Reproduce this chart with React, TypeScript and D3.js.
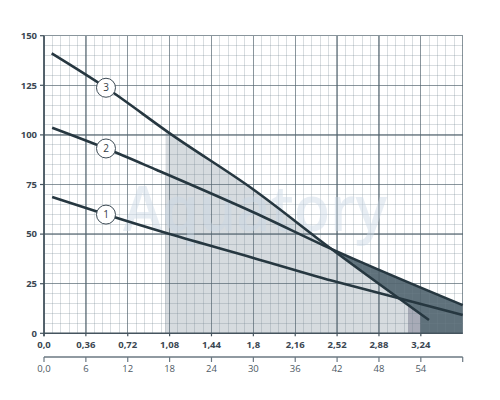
import React from "react";
import * as d3 from "d3";

// ---- data ----
const xTickValues = [0, 0.36, 0.72, 1.08, 1.44, 1.8, 2.16, 2.52, 2.88, 3.24];
const xTickLabels = ["0,0", "0,36", "0,72", "1,08", "1,44", "1,8", "2,16", "2,52", "2,88", "3,24"];
const x2TickLabels = ["0,0", "6", "12", "18", "24", "30", "36", "42", "48", "54"];
const yTickValues = [0, 25, 50, 75, 100, 125, 150];

const curve1X = [0.07, 0.54, 1.08, 1.8, 2.52, 2.88, 3.24, 3.6];
const curve1Y = [68.7, 59.7, 50, 38, 25.8, 20.3, 14.8, 9.2];
const curve2X = [0.07, 0.54, 0.97, 1.8, 2.46, 3.6];
const curve2Y = [103.6, 93, 82.3, 61, 42.8, 14.2];
const curve3X = [0.066, 0.54, 1.1, 1.8, 2.46, 3.31];
const curve3Y = [141.1, 123.5, 100, 72.5, 43, 6.7];
const curveNames = ["1", "2", "3"];
const labelX = 0.533;

// shaded working ranges (x values)
const lightRange = [1.045, 3.13];
const mediumRange = [3.13, 3.24];
const darkRange = [1.045, 3.6];

const X_MAX = 3.6;
const Y_MAX = 150;

export default function App() {
  const x = d3.scaleLinear().domain([0, X_MAX]).range([44, 462.7]);
  const y = d3.scaleLinear().domain([0, Y_MAX]).range([333.3, 35.7]);

  const series = [
    curve1X.map((v, i) => [v, curve1Y[i]] as [number, number]),
    curve2X.map((v, i) => [v, curve2Y[i]] as [number, number]),
    curve3X.map((v, i) => [v, curve3Y[i]] as [number, number]),
  ];

  const line = d3
    .line<[number, number]>()
    .x((d) => x(d[0]))
    .y((d) => y(d[1]))
    .curve(d3.curveMonotoneX);
  const area = d3
    .area<[number, number]>()
    .x((d) => x(d[0]))
    .y0(y(0))
    .y1((d) => y(d[1]))
    .curve(d3.curveMonotoneX);

  const interp = (xs: number[], ys: number[], v: number) => {
    for (let i = 0; i < xs.length - 1; i++) {
      if (v >= xs[i] && v <= xs[i + 1]) {
        const t = (v - xs[i]) / (xs[i + 1] - xs[i]);
        return ys[i] + t * (ys[i + 1] - ys[i]);
      }
    }
    return ys[0];
  };

  const minorX = d3.range(0, X_MAX + 1e-9, 0.072);
  const majorX = d3.range(0, X_MAX + 1e-9, 0.36);
  const minorY = d3.range(0, Y_MAX + 1e-9, 5);
  const majorY = d3.range(0, Y_MAX + 1e-9, 25);

  const rect = (r: number[]) => ({
    x: x(r[0]),
    width: x(r[1]) - x(r[0]),
    y: y(Y_MAX),
    height: y(0) - y(Y_MAX),
  });

  const font = "'Open Sans', 'Noto Sans', sans-serif";
  const lineColor = "#263740";

  return (
    <svg
      width={500}
      height={400}
      style={{ position: "absolute", left: 0, top: 0, background: "#fff" }}
    >
      <defs>
        <clipPath id="under2">
          <path d={area(series[1]) || ""} />
        </clipPath>
        <clipPath id="under3">
          <path d={area(series[2]) || ""} />
        </clipPath>
      </defs>

      {/* shaded zones */}
      <rect {...rect(darkRange)} fill="#5f717b" clipPath="url(#under2)" />
      <rect {...rect(lightRange)} fill="#d6dbdf" clipPath="url(#under3)" />
      <rect {...rect(mediumRange)} fill="#a8abb7" clipPath="url(#under3)" />

      {/* grid */}
      <g shapeRendering="crispEdges">
        {minorX.map((v, i) => (
          <line key={"mx" + i} x1={x(v)} x2={x(v)} y1={y(0)} y2={y(Y_MAX)} stroke="#6f808c" strokeOpacity={0.27} strokeWidth={1} />
        ))}
        {minorY.map((v, i) => (
          <line key={"my" + i} x1={x(0)} x2={x(X_MAX)} y1={y(v)} y2={y(v)} stroke="#6f808c" strokeOpacity={0.27} strokeWidth={1} />
        ))}
        {majorX.map((v, i) => (
          <line key={"Mx" + i} x1={x(v)} x2={x(v)} y1={y(0)} y2={y(Y_MAX)} stroke="#4f606b" strokeOpacity={0.58} strokeWidth={1.3} />
        ))}
        {majorY.map((v, i) => (
          <line key={"My" + i} x1={x(0)} x2={x(X_MAX)} y1={y(v)} y2={y(v)} stroke="#4f606b" strokeOpacity={0.58} strokeWidth={1.3} />
        ))}
      </g>

      {/* watermark */}
      <text
        x={255}
        y={231}
        textAnchor="middle"
        fontFamily={font}
        fontWeight={600}
        fontSize={64}
        fill="#c9d6e4"
        fillOpacity={0.45}
        textLength={264}
        lengthAdjust="spacingAndGlyphs"
      >
        Aquatory
      </text>

      {/* axes */}
      <line x1={x(0)} x2={x(X_MAX)} y1={y(0)} y2={y(0)} stroke="#45545e" strokeWidth={1.6} />
      <line x1={x(0)} x2={x(0)} y1={y(0) + 3} y2={y(Y_MAX)} stroke="#45545e" strokeWidth={1.6} />
      {yTickValues.map((v, i) => (
        <g key={"yt" + i}>
          <line x1={x(0) - 4} x2={x(0)} y1={y(v)} y2={y(v)} stroke="#45545e" strokeWidth={1.2} />
          <text x={37} y={y(v)} dy="0.35em" textAnchor="end" fontFamily={font} fontWeight={700} fontSize={9.5} fill="#3b4752">
            {v}
          </text>
        </g>
      ))}
      {xTickValues.map((v, i) => (
        <g key={"xt" + i}>
          <line x1={x(v)} x2={x(v)} y1={y(0)} y2={y(0) + 3} stroke="#45545e" strokeWidth={1.2} />
          <text x={x(v)} y={347.5} textAnchor="middle" fontFamily={font} fontWeight={700} fontSize={9.5} fill="#3b4752">
            {xTickLabels[i]}
          </text>
        </g>
      ))}

      {/* second x axis */}
      <line x1={x(0)} x2={x(X_MAX)} y1={357} y2={357} stroke="#6b7882" strokeWidth={1.6} />
      <line x1={x(X_MAX)} x2={x(X_MAX)} y1={357} y2={362} stroke="#6b7882" strokeWidth={1.2} />
      {xTickValues.map((v, i) => (
        <g key={"x2t" + i}>
          <line x1={x(v)} x2={x(v)} y1={357} y2={362} stroke="#6b7882" strokeWidth={1.2} />
          <text x={x(v)} y={372} textAnchor="middle" fontFamily={font} fontWeight={400} fontSize={9.5} fill="#4d5a64">
            {x2TickLabels[i]}
          </text>
        </g>
      ))}

      {/* curves */}
      {series.map((s, i) => (
        <path key={"c" + i} d={line(s) || ""} fill="none" stroke={lineColor} strokeWidth={2.6} strokeLinecap="butt" />
      ))}

      {/* curve labels */}
      {series.map((s, i) => {
        const xs = s.map((d) => d[0]);
        const ys = s.map((d) => d[1]);
        const cy = y(interp(xs, ys, labelX));
        const cx = x(labelX);
        return (
          <g key={"lbl" + i}>
            <circle cx={cx} cy={cy} r={9.5} fill="#fff" stroke="#3d4b55" strokeWidth={1} />
            <text x={cx} y={cy} dy="0.36em" textAnchor="middle" fontFamily={font} fontSize={10} fill="#333d45">
              {curveNames[i]}
            </text>
          </g>
        );
      })}
    </svg>
  );
}
